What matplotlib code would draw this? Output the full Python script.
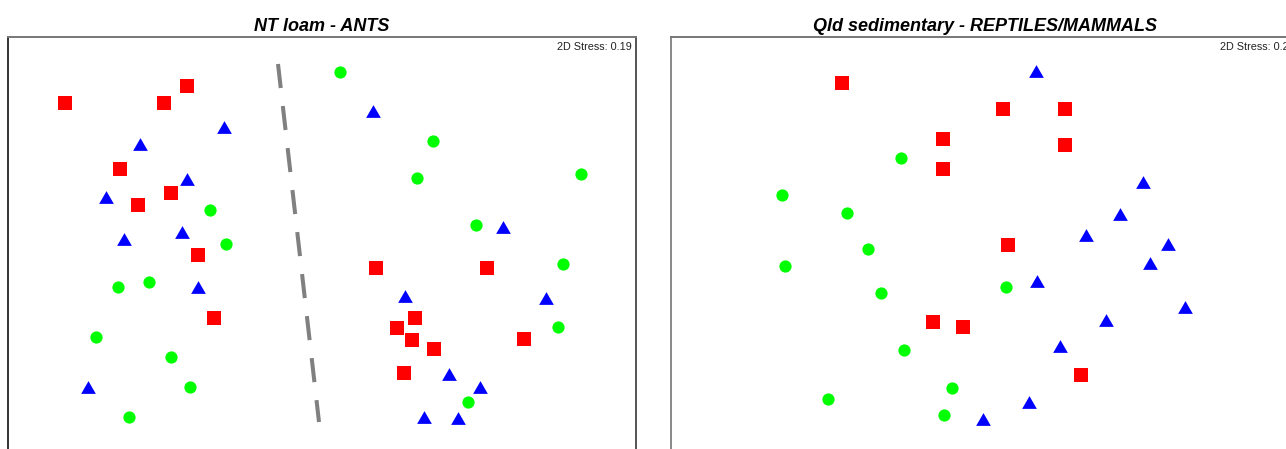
import matplotlib
matplotlib.use("Agg")
import matplotlib.pyplot as plt
import numpy as np

plt.rcParams['font.family'] = ['Liberation Sans', 'DejaVu Sans']

# ordination scores (plot units, y grows downward), one array per group
ants_red = [(57, 66), (156, 66), (179, 49), (112, 132), (130, 168), (163, 156),
            (190, 218), (206, 281), (368, 231), (479, 231), (389, 291), (407, 281),
            (404, 303), (426, 312), (396, 336), (516, 302)]
ants_blue = [(216, 90), (132, 107), (179, 142), (98, 160), (116, 202), (174, 195),
             (190, 250), (80, 350), (365, 74), (495, 190), (397, 259), (538, 261),
             (441, 337), (472, 350), (416, 380), (450, 381)]
ants_green = [(332, 35), (425, 104), (409, 141), (573, 137), (468, 188), (202, 173),
              (218, 207), (110, 250), (141, 245), (88, 300), (163, 320), (182, 350),
              (121, 380), (555, 227), (550, 290), (460, 365)]
ants_split = [(270, 27), (311, 385)]

rep_red = [(171, 46), (272, 102), (272, 132), (262, 285), (292, 290), (332, 72),
           (394, 72), (394, 108), (337, 208), (410, 338)]
rep_blue = [(365, 34), (472, 145), (449, 177), (415, 198), (497, 207), (479, 226),
            (366, 244), (514, 270), (435, 283), (389, 309), (358, 365), (312, 382)]
rep_green = [(230, 121), (111, 158), (176, 176), (197, 212), (114, 229), (210, 256),
             (233, 313), (281, 351), (157, 362), (273, 378), (335, 250)]

titles = ['NT loam - ANTS', 'Qld sedimentary - REPTILES/MAMMALS']
stress = ['2D Stress: 0.19', '2D Stress: 0.24']

W, H = 1286, 449
fig = plt.figure(figsize=(W / 100, H / 100), dpi=100)

tri = [(-1, -0.866), (1, -0.866), (0, 0.866)]


def panel(left, title, note, red, blue, green):
    ax = fig.add_axes([left / W, (H - 470) / H, 628 / W, 433 / H])
    ax.set_xlim(0, 628)
    ax.set_ylim(433, 0)
    for pts, mk, col, ms in [(red, 's', '#ff0000', 9.4),
                             (blue, tri, '#0000ff', 10.6),
                             (green, 'o', '#00ff00', 8.8)]:
        p = np.array(pts)
        ax.plot(p[:, 0], p[:, 1], linestyle='none', marker=mk, color=col,
                markersize=ms, markeredgewidth=0)
    ax.set_xticks([])
    ax.set_yticks([])
    ax.set_title(title, fontsize=13, fontweight='bold', fontstyle='italic', pad=4)
    ax.text(0.993, 0.978, note, transform=ax.transAxes, ha='right', va='center',
            fontsize=7.8, color='#222222')
    for s in ax.spines.values():
        s.set_linewidth(1.4)
        s.set_color('#555555')
    return ax


ax1 = panel(8, titles[0], stress[0], ants_red, ants_blue, ants_green)
ax1.spines['left'].set_color('#333333')
ax1.spines['top'].set_color('#777777')
sx, sy = zip(*ants_split)
line, = ax1.plot(sx, sy, color='#808080', linewidth=2.9, solid_capstyle='butt')
line.set_dashes((6, 4.5))

ax2 = panel(671, titles[1], stress[1], rep_red, rep_blue, rep_green)
ax2.spines['left'].set_color('#888888')
ax2.spines['top'].set_color('#777777')

fig.savefig('out.png', dpi=100)
